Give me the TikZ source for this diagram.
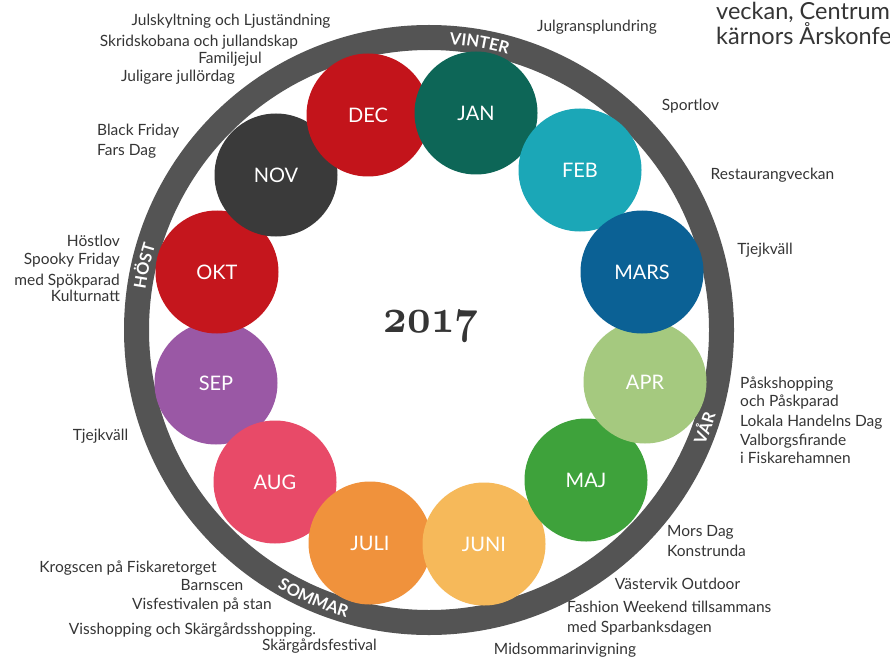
\documentclass[tikz,border=0pt]{standalone}
\usepackage{fontspec}
\newfontfamily\lato{Lato}
\usetikzlibrary{calc,decorations.text}
\definecolor{ringc}{HTML}{545454}
\definecolor{txt}{HTML}{353535}
\definecolor{cjan}{HTML}{0D6657}
\definecolor{cdec}{HTML}{C3141B}
\definecolor{cfeb}{HTML}{1BA7B7}
\definecolor{cmar}{HTML}{0B6195}
\definecolor{capr}{HTML}{A5C97F}
\definecolor{cmaj}{HTML}{3EA23B}
\definecolor{cjun}{HTML}{F6B95A}
\definecolor{cjul}{HTML}{F0923C}
\definecolor{caug}{HTML}{E84A68}
\definecolor{csep}{HTML}{9A58A5}
\definecolor{cokt}{HTML}{C5161D}
\definecolor{cnov}{HTML}{3A3A3A}
\newcommand\seasonfont{\lato\bfseries\fontsize{16.5}{16.5}\selectfont\color{white}}
\newcommand\yeartext{\fontsize{24.88}{25}\usefont{OML}{cmm}{b}{it}2017}
\tikzset{
  month/.style={circle, minimum size=123pt, inner sep=0pt, text=white,
    font=\lato\fontsize{20}{20}\selectfont},
  evt/.style={inner sep=0pt, text=txt, font=\lato\fontsize{15.5}{17}\selectfont},
  big/.style={inner sep=0pt, text=txt, font=\lato\fontsize{23.5}{25}\selectfont},
  season/.style={decorate, decoration={text along path, text align=center,
    text={|\seasonfont|#1}}}
}
\begin{document}
\begin{tikzpicture}[x=1pt,y=1pt]
\useasboundingbox (0,0) rectangle (890,657);
\fill[white] (0,0) rectangle (890,657);
\clip (0,0) rectangle (890,657);
\coordinate (c) at (429,327);
% ring
\draw[ringc, line width=25pt] (c) circle[radius=292.5pt];
% seasons
\path[season=VINTER] ($(c)+(100:286.5pt)$) arc[start angle=100, end angle=60, radius=286.5pt];
\path[season=HÖST] ($(c)+(187.3:286.5pt)$) arc[start angle=187.3, end angle=147.3, radius=286.5pt];
\path[season=VÅR] ($(c)+(-39.6:299pt)$) arc[start angle=-39.6, end angle=0.4, radius=299pt];
\path[season=SOMMAR] ($(c)+(226.7:299pt)$) arc[start angle=226.7, end angle=266.7, radius=299pt];
% months
\node[month, fill=csep] (sep) at (216,274) {SEP};
\node[month, fill=caug] (aug) at (275,175) {AUG};
\node[month, fill=cjul] (jul) at (370,114) {JULI};
\node[month, fill=cjun] (jun) at (484,113) {JUNI};
\node[month, fill=cmaj] (maj) at (586,177) {MAJ};
\node[month, fill=capr] (apr) at (645,275) {APR};
\node[month, fill=cokt] (okt) at (217,385) {OKT};
\node[month, fill=cnov] (nov) at (276,482) {NOV};
\node[month, fill=cdec] (dec) at (368,542) {DEC};
\node[month, fill=cjan] (jan) at (476,544) {JAN};
\node[month, fill=cfeb] (feb) at (580,487) {FEB};
\node[month, fill=cmar] (mar) at (642,385) {MARS};
% year
\node[inner sep=0pt, text=txt, xscale=1.65, yscale=1.95] (year) at (431,331) {\yeartext};
% events top left
\node[evt, anchor=mid] (e1) at (231,634) {Julskyltning och Ljuständning};
\node[evt, anchor=mid] (e2) at (199,613) {Skridskobana och jullandskap};
\node[evt, anchor=mid] (e3) at (230,596) {Familjejul};
\node[evt, anchor=mid] (e4) at (178,578) {Juligare jullördag};
% top right
\node[evt, anchor=mid] (e5) at (597,628) {Julgransplundring};
\node[big, anchor=mid west] (b1) at (716,640) {veckan, Centrum};
\node[big, anchor=mid west] (b2) at (716,615) {kärnors Årskonfe};
% right
\node[evt, anchor=mid] (e6) at (690.5,549) {Sportlov};
\node[evt, anchor=mid] (e7) at (772.5,480) {Restaurangveckan};
\node[evt, anchor=mid] (e8) at (765,405) {Tjejkväll};
\node[evt, anchor=mid west] (e9) at (740,271) {Påskshopping};
\node[evt, anchor=mid west] (e10) at (740,253) {och Påskparad};
\node[evt, anchor=mid west] (e11) at (740,233) {Lokala Handelns Dag};
\node[evt, anchor=mid west] (e12) at (740,214) {Valborgsfirande};
\node[evt, anchor=mid west] (e13) at (740,196) {i Fiskarehamnen};
% bottom right
\node[evt, anchor=mid west] (e14) at (667,123) {Mors Dag};
\node[evt, anchor=mid west] (e15) at (667,103) {Konstrunda};
\node[evt, anchor=mid] (e16) at (677.5,70) {Västervik Outdoor};
\node[evt, anchor=mid west] (e17) at (567,47) {Fashion Weekend tillsammans};
\node[evt, anchor=mid west] (e18) at (567,27) {med Sparbanksdagen};
\node[evt, anchor=mid] (e19) at (565,5) {Midsommarinvigning};
% bottom left
\node[evt, anchor=mid] (e20) at (319.5,9) {Skärgårdsfestival};
\node[evt, anchor=mid] (e21) at (192.5,25) {Visshopping och Skärgårdsshopping.};
\node[evt, anchor=mid] (e22) at (202,50) {Visfestivalen på stan};
\node[evt, anchor=mid] (e23) at (212,69) {Barnscen};
\node[evt, anchor=mid] (e24) at (128,87) {Krogscen på Fiskaretorget};
% left
\node[evt, anchor=mid] (e25) at (100.5,219) {Tjejkväll};
\node[evt, anchor=mid west] (e26) at (97,524) {Black Friday};
\node[evt, anchor=mid west] (e27) at (97,504) {Fars Dag};
\node[evt, anchor=mid east] (e28) at (120,413) {Höstlov};
\node[evt, anchor=mid east] (e29) at (120,395) {Spooky Friday};
\node[evt, anchor=mid east] (e30) at (120,374) {med Spökparad};
\node[evt, anchor=mid east] (e31) at (120,358) {Kulturnatt};
\end{tikzpicture}
\end{document}
